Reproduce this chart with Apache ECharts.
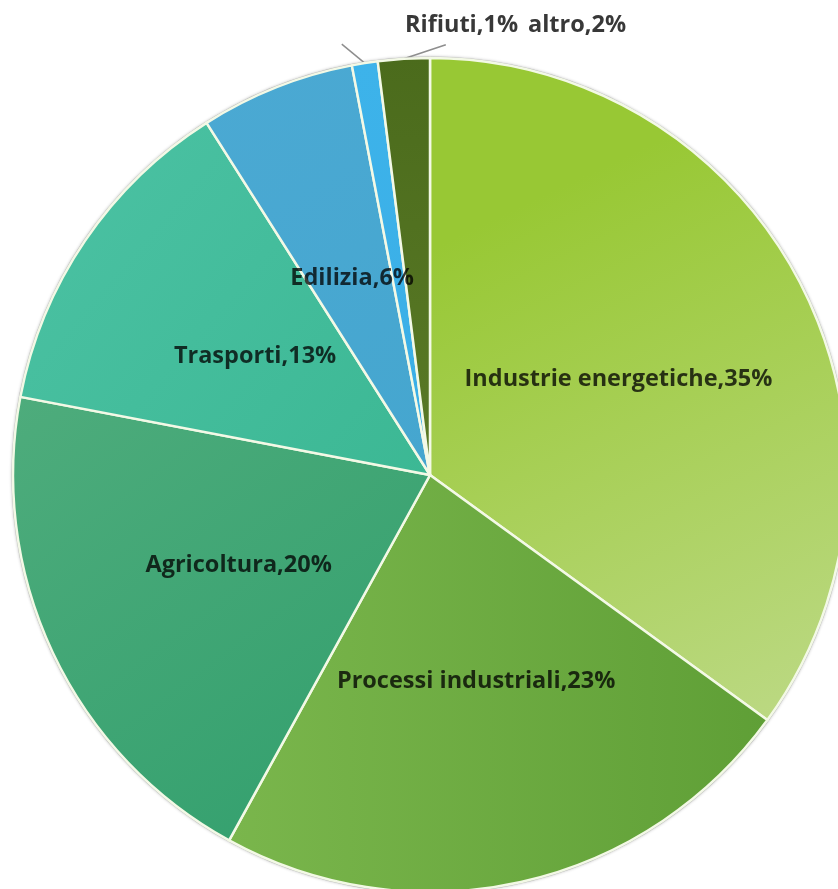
<!DOCTYPE html>
<html>
<head>
<meta charset="utf-8">
<script src="https://cdn.jsdelivr.net/npm/echarts@6/dist/echarts.min.js"></script>
<style>
  html, body { margin: 0; padding: 0; background: #ffffff; }
  #chart { width: 838px; height: 889px; }
</style>
</head>
<body>
<div id="chart"></div>
<script>
// Emissioni per settore (quote percentuali)
const categories = ['Industrie energetiche', 'Processi industriali', 'Agricoltura', 'Trasporti', 'Edilizia', 'Rifiuti', 'altro'];
const shares = [35, 23, 20, 13, 6, 1, 2];

// Fill gradients per sector: [start colour, end colour, direction x1,y1,x2,y2]
const fills = [
  ['#98c834', '#bcd984', [0.3, 0.2, 0.9, 1]],
  ['#7ab64c', '#5f9f36', [0, 0.5, 1, 0.5]],
  ['#4eac7c', '#33a06e', [0, 0, 0.8, 1]],
  ['#4cc2a4', '#3cb894', [0, 0, 1, 1]],
  ['#4ba9d3', '#45a6cf', [0, 0, 1, 1]],
  ['#3db3ea', '#3aaee6', [0, 0, 1, 1]],
  ['#4b6b1c', '#5a7a26', [0, 0, 0, 1]]
];

const outsideIdx = [5, 6];

const chart = echarts.init(document.getElementById('chart'), null, { renderer: 'canvas' });
const cx = 430, cy = 475, R = 417;

const data = categories.map((name, i) => {
  const f = fills[i];
  const item = {
    name: name,
    value: shares[i],
    itemStyle: {
      color: new echarts.graphic.LinearGradient(f[2][0], f[2][1], f[2][2], f[2][3], [
        { offset: 0, color: f[0] },
        { offset: 1, color: f[1] }
      ])
    }
  };
  if (outsideIdx.indexOf(i) >= 0) {
    item.label = { position: 'outside', color: '#383838' };
    item.labelLine = { show: true, length: 10, length2: 10, lineStyle: { color: '#8e8e8e', width: 1.5 } };
  }
  return item;
});

chart.setOption({
  animation: false,
  backgroundColor: '#ffffff',
  series: [
    {
      // thin grey rim behind the pie
      type: 'pie',
      silent: true,
      center: [cx, cy],
      radius: R + 1.5,
      startAngle: 90,
      label: { show: false },
      labelLine: { show: false },
      itemStyle: { color: '#b9b9b9', shadowColor: 'rgba(0,0,0,0.25)', shadowBlur: 3 },
      data: [{ value: 1, name: '' }],
      z: 1
    },
    {
      type: 'pie',
      center: [cx, cy],
      radius: R,
      startAngle: 90,
      clockwise: true,
      avoidLabelOverlap: false,
      z: 2,
      itemStyle: { borderColor: '#f3f9e6', borderWidth: 2.5 },
      label: {
        show: true,
        position: 'inside',
        formatter: '{b},{c}%',
        fontFamily: 'Open Sans',
        fontWeight: 'bold',
        fontSize: 23.5,
        color: 'rgba(0,0,0,0.76)'
      },
      labelLine: { show: false },
      labelLayout: function (params) {
        const i = params.dataIndex;
        if (outsideIdx.indexOf(i) < 0) return {};
        const p0 = params.labelLinePoints ? params.labelLinePoints[0] : null;
        if (i === 5) {
          const out = { x: cx - 25, y: 25, align: 'left', verticalAlign: 'middle' };
          if (p0) out.labelLinePoints = [p0, [p0[0] - 23, p0[1] - 19], [p0[0] - 23, p0[1] - 19]];
          return out;
        }
        const out = { x: cx + 98, y: 25, align: 'left', verticalAlign: 'middle' };
        if (p0) out.labelLinePoints = [p0, [p0[0] + 42, p0[1] - 14], [p0[0] + 42, p0[1] - 14]];
        return out;
      },
      data: data
    }
  ]
});
</script>
</body>
</html>
